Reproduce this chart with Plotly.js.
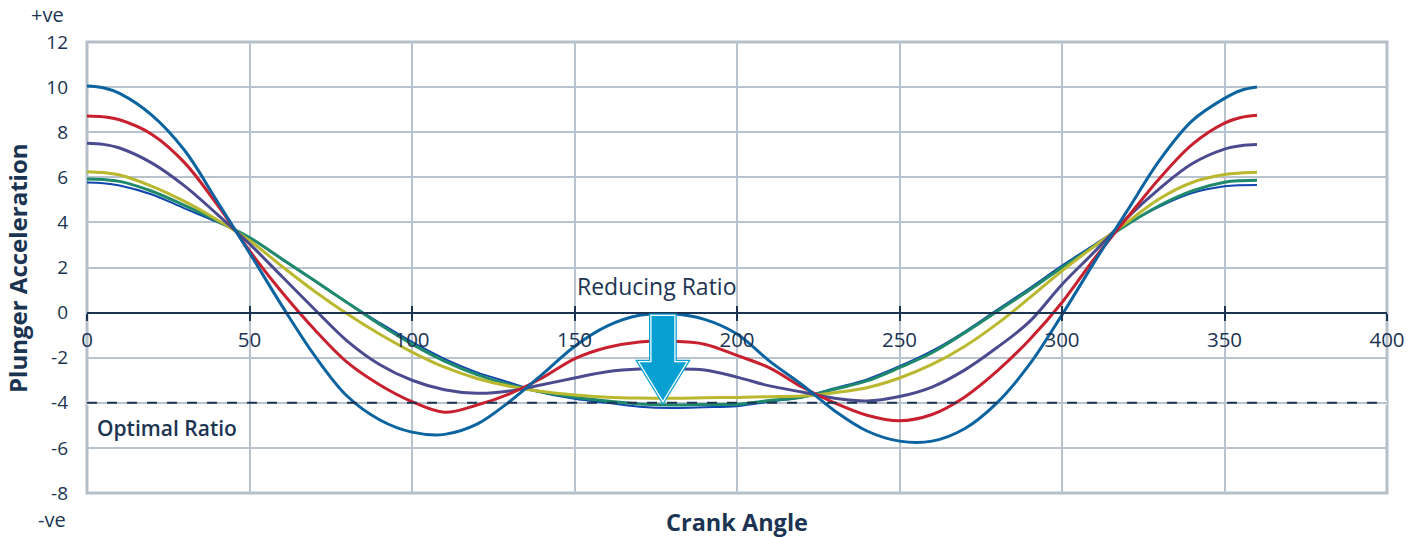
<!DOCTYPE html>
<html><head><meta charset="utf-8">
<script src="https://cdn.plot.ly/plotly-3.0.1.min.js"></script>
<style>html,body{margin:0;padding:0;background:#fff}#chart{width:1419px;height:537px}</style>
</head><body><div id="chart"></div>
<script>
// ---- data ----
const crankAngle = [0,5,10,20,30,40,50,60,70,80,90,100,110,120,130,140,150,160,170,180,190,200,210,220,230,240,250,260,270,280,290,300,310,320,330,340,350,355,360];
const accelBlue   = [10.05,9.97,9.72,8.75,7.2,4.95,2.65,0.3,-1.9,-3.7,-4.75,-5.3,-5.4,-4.95,-3.95,-2.75,-1.5,-0.6,-0.12,-0.05,-0.3,-0.95,-2.15,-3.2,-4.35,-5.25,-5.7,-5.7,-5.15,-4.0,-2.3,-0.1,2.25,4.5,6.75,8.5,9.5,9.85,10.0];
const accelRed    = [8.72,8.68,8.55,7.9,6.65,4.8,2.75,0.9,-0.75,-2.2,-3.2,-3.95,-4.42,-4.1,-3.6,-2.9,-2.05,-1.55,-1.3,-1.27,-1.4,-1.9,-2.45,-3.3,-4.0,-4.55,-4.8,-4.52,-3.75,-2.6,-1.2,0.45,2.4,4.2,5.95,7.45,8.4,8.65,8.75];
const accelPurple = [7.51,7.46,7.3,6.63,5.62,4.37,3.05,1.6,0.15,-1.25,-2.3,-3.0,-3.42,-3.58,-3.48,-3.2,-2.9,-2.62,-2.5,-2.5,-2.55,-2.86,-3.25,-3.52,-3.8,-3.92,-3.72,-3.3,-2.55,-1.55,-0.4,1.25,2.7,4.2,5.5,6.6,7.25,7.4,7.45];
const accelYellow = [6.25,6.21,6.1,5.6,4.93,4.12,3.2,2.05,0.95,-0.05,-0.95,-1.75,-2.42,-2.92,-3.27,-3.5,-3.65,-3.75,-3.79,-3.8,-3.78,-3.76,-3.73,-3.7,-3.55,-3.33,-2.9,-2.3,-1.5,-0.5,0.65,1.85,2.95,4.0,5.05,5.77,6.12,6.19,6.22];
const accelGreen  = [5.92,5.9,5.82,5.38,4.75,4.07,3.33,2.38,1.42,0.45,-0.52,-1.4,-2.15,-2.75,-3.2,-3.52,-3.75,-3.92,-4.05,-4.1,-4.08,-4.06,-3.9,-3.75,-3.4,-3.03,-2.44,-1.78,-0.9,0.05,1.0,2.0,2.95,3.9,4.75,5.4,5.78,5.85,5.87];
const accelBlue2  = [5.77,5.74,5.64,5.24,4.62,4.02,3.33,2.36,1.4,0.45,-0.45,-1.3,-2.05,-2.65,-3.1,-3.55,-3.82,-4.0,-4.17,-4.23,-4.2,-4.15,-3.95,-3.75,-3.35,-2.96,-2.38,-1.7,-0.85,0.12,1.08,2.08,3.02,3.92,4.7,5.3,5.6,5.65,5.66];
const optimalRatio = -4;
const xTickVals = [0,50,100,150,200,250,300,350,400];
const yTickVals = [-8,-6,-4,-2,0,2,4,6,8,10,12];
const yTickText = ['-8','-6','-4','-2','0','2','4','6','8','10','12'];

// ---- styling ----
const navy = '#1b3452';
const gridCol = '#b9c3ce';
const FONT = 'Open Sans, Noto Sans, sans-serif';

function line(y, color, width) {
  return {x: crankAngle, y: y, type: 'scatter', mode: 'lines',
    line: {color: color, width: width, shape: 'spline', smoothing: 1},
    hoverinfo: 'skip', showlegend: false};
}

const traces = [
  line(accelBlue2, '#1046ae', 2),
  line(accelGreen, '#1f8a6b', 3),
  line(accelYellow, '#b9b82e', 3),
  line(accelPurple, '#4b4b8f', 3),
  line(accelRed, '#c8202e', 3),
  line(accelBlue, '#0b64a0', 3),
  {x: [0, 400], y: [optimalRatio, optimalRatio], xaxis: 'x2', yaxis: 'y', type: 'scatter', mode: 'lines',
   line: {color: navy, width: 2, dash: '10px,10px'}, hoverinfo: 'skip', showlegend: false}
];

// arrow geometry (data units)
const aX = 177.2, aTop = -0.15, aTip = optimalRatio + 0.1, aHeadTop = -2.2, aShaft = 3.5, aHead = 7.2;
const arrowPath = 'M ' + (aX - aShaft) + ' ' + aTop + ' L ' + (aX + aShaft) + ' ' + aTop +
  ' L ' + (aX + aShaft) + ' ' + aHeadTop + ' L ' + (aX + aHead) + ' ' + aHeadTop +
  ' L ' + aX + ' ' + aTip + ' L ' + (aX - aHead) + ' ' + aHeadTop +
  ' L ' + (aX - aShaft) + ' ' + aHeadTop + ' Z';

const xCommon = {range: [0, 400], tickvals: xTickVals, anchor: 'free', position: 0.4,
  zeroline: false, tickcolor: navy, tickwidth: 2, ticklen: 7, fixedrange: true};

const layout = {
  width: 1419, height: 537,
  margin: {l: 87, r: 32, t: 42, b: 44},
  paper_bgcolor: '#ffffff', plot_bgcolor: '#ffffff',
  font: {family: FONT, color: navy, size: 19},
  showlegend: false,
  xaxis: Object.assign({}, xCommon, {
    ticks: 'outside', showline: true, linecolor: navy, linewidth: 2,
    showgrid: true, gridcolor: gridCol, gridwidth: 2,
    tickfont: {family: FONT, size: 20.5, color: navy}, ticklabelstandoff: 2
  }),
  xaxis2: Object.assign({}, xCommon, {
    overlaying: 'x', ticks: 'inside', showline: false, showgrid: false, showticklabels: false
  }),
  yaxis: {range: [-8, 12], tickvals: yTickVals, ticktext: yTickText, showgrid: true,
    gridcolor: gridCol, gridwidth: 2, zeroline: false, showline: false, ticks: '',
    tickfont: {family: FONT, size: 19, color: navy}, ticklabelstandoff: 18, fixedrange: true},
  shapes: [
    {type: 'line', xref: 'x', yref: 'y', x0: 0, x1: 400, y0: optimalRatio, y1: optimalRatio,
     line: {color: '#ffffff', width: 4}, layer: 'below'},
    {type: 'rect', xref: 'paper', yref: 'paper', x0: 0, x1: 1, y0: 0, y1: 1,
     line: {color: '#b5bfca', width: 3}, layer: 'below'},
    {type: 'path', xref: 'x', yref: 'y', path: arrowPath, fillcolor: '#06a0d2',
     line: {color: '#06a0d2', width: 5}, layer: 'above'},
    {type: 'path', xref: 'x', yref: 'y', path: arrowPath,
     line: {color: '#ffffff', width: 2.5}, layer: 'above'},
    {type: 'path', xref: 'x', yref: 'y', path: arrowPath, fillcolor: '#06a0d2',
     line: {color: '#06a0d2', width: 0}, layer: 'above', opacity: 1}
  ],
  annotations: [
    {text: 'Reducing Ratio', xref: 'x', yref: 'y', x: 175.5, y: 1.2, showarrow: false,
     font: {family: FONT, size: 23, color: navy}},
    {text: 'Optimal Ratio', xref: 'x', yref: 'y', x: 2.5, y: optimalRatio - 1.1, xanchor: 'left', showarrow: false,
     font: {family: FONT, size: 21, color: navy, weight: 600}},
    {text: '+ve', xref: 'paper', yref: 'paper', x: -0.0165, y: 1.06, xanchor: 'right', yanchor: 'middle', showarrow: false,
     font: {family: FONT, size: 20, color: navy}},
    {text: '-ve', xref: 'paper', yref: 'paper', x: -0.0145, y: -0.058, xanchor: 'right', yanchor: 'middle', showarrow: false,
     font: {family: FONT, size: 20, color: navy}},
    {text: '<b>Crank Angle</b>', xref: 'paper', yref: 'paper', x: 0.5, y: -0.065, yanchor: 'middle', showarrow: false,
     font: {family: FONT, size: 23.5, color: navy}},
    {text: '<b>Plunger Acceleration</b>', xref: 'paper', yref: 'paper', x: -0.0535, y: 0.5, xanchor: 'center', yanchor: 'middle',
     textangle: -90, showarrow: false, font: {family: FONT, size: 24, color: navy}}
  ]
};

Plotly.newPlot('chart', traces, layout, {staticPlot: true, displayModeBar: false});
</script>
</body></html>
